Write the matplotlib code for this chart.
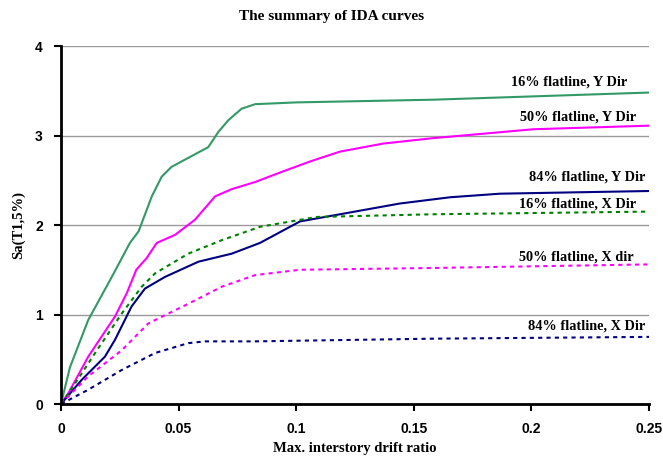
import matplotlib
matplotlib.use("Agg")
import matplotlib.pyplot as plt

# 16% flatline, Y Dir
x16y = [0, 0.0038, 0.0116, 0.0216, 0.0293, 0.033, 0.0386, 0.0428, 0.047, 0.0626, 0.0669, 0.0711, 0.0768, 0.0825, 0.1, 0.158, 0.25]
y16y = [0, 0.41, 0.94, 1.42, 1.80, 1.93, 2.32, 2.54, 2.65, 2.87, 3.04, 3.17, 3.30, 3.35, 3.37, 3.40, 3.48]
# 50% flatline, Y Dir
x50y = [0, 0.0031, 0.0116, 0.023, 0.028, 0.032, 0.0364, 0.0407, 0.0485, 0.057, 0.0655, 0.0725, 0.0825, 0.0945, 0.1059, 0.1186, 0.137, 0.158, 0.2008, 0.25]
y50y = [0, 0.12, 0.53, 0.98, 1.24, 1.50, 1.63, 1.80, 1.89, 2.06, 2.32, 2.40, 2.48, 2.60, 2.71, 2.82, 2.91, 2.97, 3.07, 3.11]
# 84% flatline, Y Dir
x84y = [0, 0.0088, 0.0187, 0.023, 0.030, 0.0357, 0.0442, 0.0584, 0.0726, 0.0846, 0.1016, 0.1186, 0.144, 0.1654, 0.1866, 0.25]
y84y = [0, 0.27, 0.53, 0.72, 1.09, 1.29, 1.42, 1.59, 1.68, 1.80, 2.04, 2.12, 2.24, 2.31, 2.35, 2.38]
# 16% flatline, X Dir
x16x = [0, 0.006, 0.0145, 0.0258, 0.0343, 0.040, 0.0541, 0.0683, 0.0846, 0.1087, 0.158, 0.25]
y16x = [0, 0.23, 0.57, 1.01, 1.31, 1.46, 1.68, 1.83, 1.98, 2.09, 2.12, 2.15]
# 50% flatline, X dir
x50x = [0, 0.0116, 0.0258, 0.0371, 0.0541, 0.0683, 0.0825, 0.1016, 0.158, 0.25]
y50x = [0, 0.31, 0.60, 0.90, 1.12, 1.31, 1.44, 1.50, 1.52, 1.56]
# 84% flatline, X Dir
x84x = [0, 0.0116, 0.0258, 0.040, 0.0541, 0.0612, 0.0825, 0.158, 0.25]
y84x = [0, 0.16, 0.38, 0.57, 0.68, 0.70, 0.70, 0.73, 0.75]

labels = ["16% flatline, Y Dir", "50% flatline, Y Dir", "84% flatline, Y Dir",
          "16% flatline, X Dir", "50% flatline, X dir", "84% flatline, X Dir"]
label_x = [0.2406, 0.2445, 0.2483, 0.2445, 0.2436, 0.2483]
label_y = [3.60, 3.21, 2.54, 2.24, 1.64, 0.87]

xticks = [0, 0.05, 0.1, 0.15, 0.2, 0.25]
xticklabels = ["0", "0.05", "0.1", "0.15", "0.2", "0.25"]
yticks = [0, 1, 2, 3, 4]

fig = plt.figure(figsize=(6.63, 4.61), dpi=100)
ax = fig.add_axes([0.092, 0.1236, 0.887, 0.7766])

dash = (0, (2, 2))
ax.plot(x16y, y16y, color="#339966", lw=1.5)
ax.plot(x50y, y50y, color="#FF00FF", lw=1.5)
ax.plot(x84y, y84y, color="#000080", lw=1.5)
ax.plot(x16x, y16x, color="#008000", lw=1.5, linestyle=dash)
ax.plot(x50x, y50x, color="#FF00FF", lw=1.5, linestyle=dash)
ax.plot(x84x, y84x, color="#000080", lw=1.5, linestyle=dash)

for t, lx, ly in zip(labels, label_x, label_y):
    ax.text(lx, ly, t, ha="right", va="center", fontsize=10.3, fontweight="bold",
            family="Liberation Serif", color="black")

ax.set_xlim(0, 0.25)
ax.set_ylim(0, 4)
ax.set_xticks(xticks)
ax.set_xticklabels(xticklabels)
ax.set_yticks(yticks)
for lab in ax.get_xticklabels() + ax.get_yticklabels():
    lab.set_fontfamily("Liberation Sans")
    lab.set_fontweight("bold")
    lab.set_fontsize(10)
ax.tick_params(direction="out", length=5, width=1.5, pad=8)
ax.yaxis.grid(True, color="#999999", lw=1)
ax.set_axisbelow(True)
for s in ["top", "right"]:
    ax.spines[s].set_visible(False)
for s in ["left", "bottom"]:
    ax.spines[s].set_linewidth(2)
ax.spines["bottom"].set_zorder(5)

ax.set_xlabel("Max. interstory drift ratio", family="Liberation Serif", fontweight="bold", fontsize=10.5, labelpad=4)
ax.set_ylabel("Sa(T1,5%)", family="Liberation Serif", fontweight="bold", fontsize=10.5, labelpad=7)
fig.text(0.5, 0.965, "The summary of IDA curves", ha="center", va="center",
         family="Liberation Serif", fontweight="bold", fontsize=11)

fig.savefig("out.png", dpi=100)
